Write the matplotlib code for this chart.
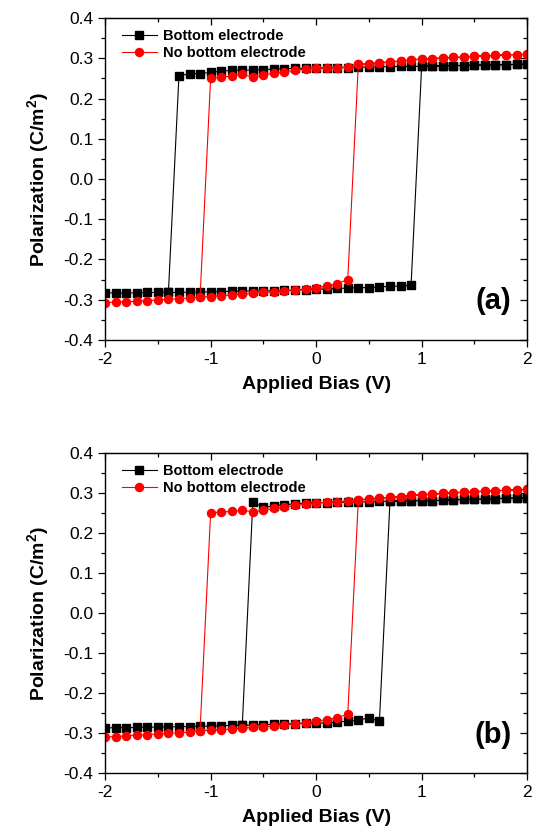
import numpy as np
import matplotlib
matplotlib.use("Agg")
import matplotlib.pyplot as plt

plt.rcParams['font.family'] = ['Liberation Sans', 'DejaVu Sans']
plt.rcParams['axes.unicode_minus'] = False
plt.rcParams['mathtext.fontset'] = 'custom'
plt.rcParams['mathtext.rm'] = 'Liberation Sans'
plt.rcParams['mathtext.bf'] = 'Liberation Sans:bold'

# ---- panel (a) data ----
# lower branch (sweep up from -2 V), bottom electrode
a_blk_lo_x = np.round(np.arange(-2.0, 0.91, 0.1), 1)
a_blk_lo_y = [-0.283, -0.283, -0.283, -0.283, -0.282, -0.282, -0.282, -0.282, -0.281, -0.281,
              -0.280, -0.280, -0.279, -0.279, -0.278, -0.278, -0.278, -0.277, -0.276, -0.275,
              -0.274, -0.273, -0.272, -0.271, -0.270, -0.270, -0.268, -0.267, -0.266, -0.264]
# upper branch, bottom electrode
a_blk_up_x = np.round(np.arange(-1.3, 2.01, 0.1), 1)
a_blk_up_y = [0.257, 0.261, 0.262, 0.265, 0.268, 0.270, 0.270, 0.271, 0.272, 0.273,
              0.274, 0.275, 0.275, 0.276, 0.276, 0.277, 0.277, 0.278, 0.278, 0.279,
              0.279, 0.280, 0.280, 0.280, 0.281, 0.281, 0.282, 0.282, 0.283, 0.283,
              0.284, 0.284, 0.285, 0.285]
# no bottom electrode
a_red_lo_x = np.round(np.arange(-2.0, 0.31, 0.1), 1)
a_red_lo_y = [-0.307, -0.306, -0.305, -0.304, -0.302, -0.301, -0.299, -0.297, -0.296, -0.294,
              -0.292, -0.290, -0.288, -0.286, -0.284, -0.282, -0.280, -0.278, -0.276, -0.273,
              -0.270, -0.266, -0.260, -0.250]
a_red_up_x = np.round(np.arange(-1.0, 2.01, 0.1), 1)
a_red_up_y = [0.250, 0.253, 0.256, 0.260, 0.253, 0.258, 0.263, 0.266, 0.270, 0.273,
              0.275, 0.276, 0.277, 0.278, 0.285, 0.286, 0.289, 0.291, 0.293, 0.296,
              0.298, 0.299, 0.301, 0.302, 0.303, 0.305, 0.306, 0.307, 0.309, 0.309, 0.310]

# ---- panel (b) data ----
b_blk_lo_x = np.round(np.arange(-2.0, 0.61, 0.1), 1)
b_blk_lo_y = [-0.287, -0.287, -0.287, -0.286, -0.286, -0.285, -0.285, -0.284, -0.284, -0.283,
              -0.283, -0.282, -0.281, -0.281, -0.280, -0.279, -0.278, -0.277, -0.277, -0.276,
              -0.275, -0.275, -0.273, -0.270, -0.268, -0.262, -0.271]
b_blk_up_x = np.round(np.arange(-0.6, 2.01, 0.1), 1)
b_blk_up_y = [0.277, 0.264, 0.268, 0.271, 0.273, 0.275, 0.276, 0.276, 0.277, 0.277,
              0.278, 0.278, 0.279, 0.280, 0.280, 0.281, 0.281, 0.281, 0.282, 0.283,
              0.284, 0.284, 0.285, 0.286, 0.287, 0.287, 0.288]
b_red_lo_x = np.round(np.arange(-2.0, 0.31, 0.1), 1)
b_red_lo_y = [-0.310, -0.309, -0.307, -0.305, -0.304, -0.302, -0.301, -0.299, -0.298, -0.294,
              -0.293, -0.292, -0.290, -0.288, -0.286, -0.285, -0.282, -0.280, -0.277, -0.274,
              -0.270, -0.267, -0.262, -0.253]
b_red_up_x = np.round(np.arange(-1.0, 2.01, 0.1), 1)
b_red_up_y = [0.250, 0.253, 0.254, 0.257, 0.253, 0.257, 0.262, 0.265, 0.269, 0.272,
              0.275, 0.277, 0.278, 0.280, 0.283, 0.285, 0.287, 0.290, 0.291, 0.294,
              0.296, 0.297, 0.299, 0.301, 0.302, 0.303, 0.305, 0.306, 0.307, 0.308, 0.309]

labels = ["Bottom electrode", "No bottom electrode"]
yticks = [-0.4, -0.3, -0.2, -0.1, 0.0, 0.1, 0.2, 0.3, 0.4]
yminor = [-0.35, -0.25, -0.15, -0.05, 0.05, 0.15, 0.25, 0.35]
xticks = [-2, -1, 0, 1, 2]
xminor = [-1.5, -0.5, 0.5, 1.5]


def loop(lo_x, lo_y, up_x, up_y):
    # full hysteresis path: up the lower branch, jump, back down the upper branch, jump
    lo_x = list(lo_x); up_x = list(up_x)
    j = up_x.index(round(lo_x[-1] + 0.1, 1))
    k = lo_x.index(round(up_x[0] - 0.1, 1))
    xs = lo_x + up_x[j:] + up_x[::-1] + [lo_x[k]]
    ys = list(lo_y) + list(up_y[j:]) + list(up_y[::-1]) + [lo_y[k]]
    return xs, ys


def panel(ax, blk, red, tag):
    x, y = loop(*blk)
    ax.plot(x, y, '-', color='black', lw=0.8, marker='s', ms=5.2,
            mec='black', mfc='black', label=labels[0])
    x, y = loop(*red)
    ax.plot(x, y, '-', color='red', lw=0.8, marker='o', ms=5.8,
            mec='red', mfc='red', label=labels[1])
    ax.set_xlim(-2, 2)
    ax.set_ylim(-0.4, 0.4)
    ax.set_xticks(xticks)
    ax.set_xticks(xminor, minor=True)
    ax.set_yticks(yticks)
    ax.set_yticks(yminor, minor=True)
    ax.yaxis.set_major_formatter(matplotlib.ticker.FormatStrFormatter('%.1f'))
    ax.tick_params(which='both', direction='out', labelsize=12.5, width=0.9)
    ax.tick_params(which='major', length=5)
    ax.tick_params(which='minor', length=3)
    for s in ax.spines.values():
        s.set_linewidth(1.0)
    top = ax.secondary_xaxis('top')
    top.set_xticks(xticks)
    top.set_xticks(xminor, minor=True)
    top.tick_params(which='both', direction='in', labeltop=False, width=0.9)
    top.tick_params(which='major', length=5)
    top.tick_params(which='minor', length=3)
    rt = ax.secondary_yaxis('right')
    rt.set_yticks(yticks)
    rt.set_yticks(yminor, minor=True)
    rt.tick_params(which='both', direction='in', labelright=False, width=0.9)
    rt.tick_params(which='major', length=5)
    rt.tick_params(which='minor', length=3)
    ax.set_xlabel("Applied Bias (V)", fontsize=14, fontweight='bold', labelpad=7)
    ax.set_ylabel(r"Polarization (C/m$^\mathbf{2}$)", fontsize=14, fontweight='bold', labelpad=8)
    ax.legend(loc='upper left', bbox_to_anchor=(0.005, 1.012), frameon=False,
              handlelength=2.4, handletextpad=0.4, borderaxespad=0.6, labelspacing=0.2,
              prop={'weight': 'bold', 'size': 10.5})
    ax.text(0.92, 0.12, tag, transform=ax.transAxes, fontsize=21, fontweight='bold',
            ha='center', va='center')


fig = plt.figure(figsize=(5.39, 8.39), dpi=100)
ax1 = fig.add_axes([0.195, 0.5948, 0.783, 0.3837])
ax2 = fig.add_axes([0.195, 0.0787, 0.783, 0.3813])
panel(ax1, (a_blk_lo_x, a_blk_lo_y, a_blk_up_x, a_blk_up_y),
      (a_red_lo_x, a_red_lo_y, a_red_up_x, a_red_up_y), "(a)")
panel(ax2, (b_blk_lo_x, b_blk_lo_y, b_blk_up_x, b_blk_up_y),
      (b_red_lo_x, b_red_lo_y, b_red_up_x, b_red_up_y), "(b)")
fig.savefig("out.png", dpi=100)
